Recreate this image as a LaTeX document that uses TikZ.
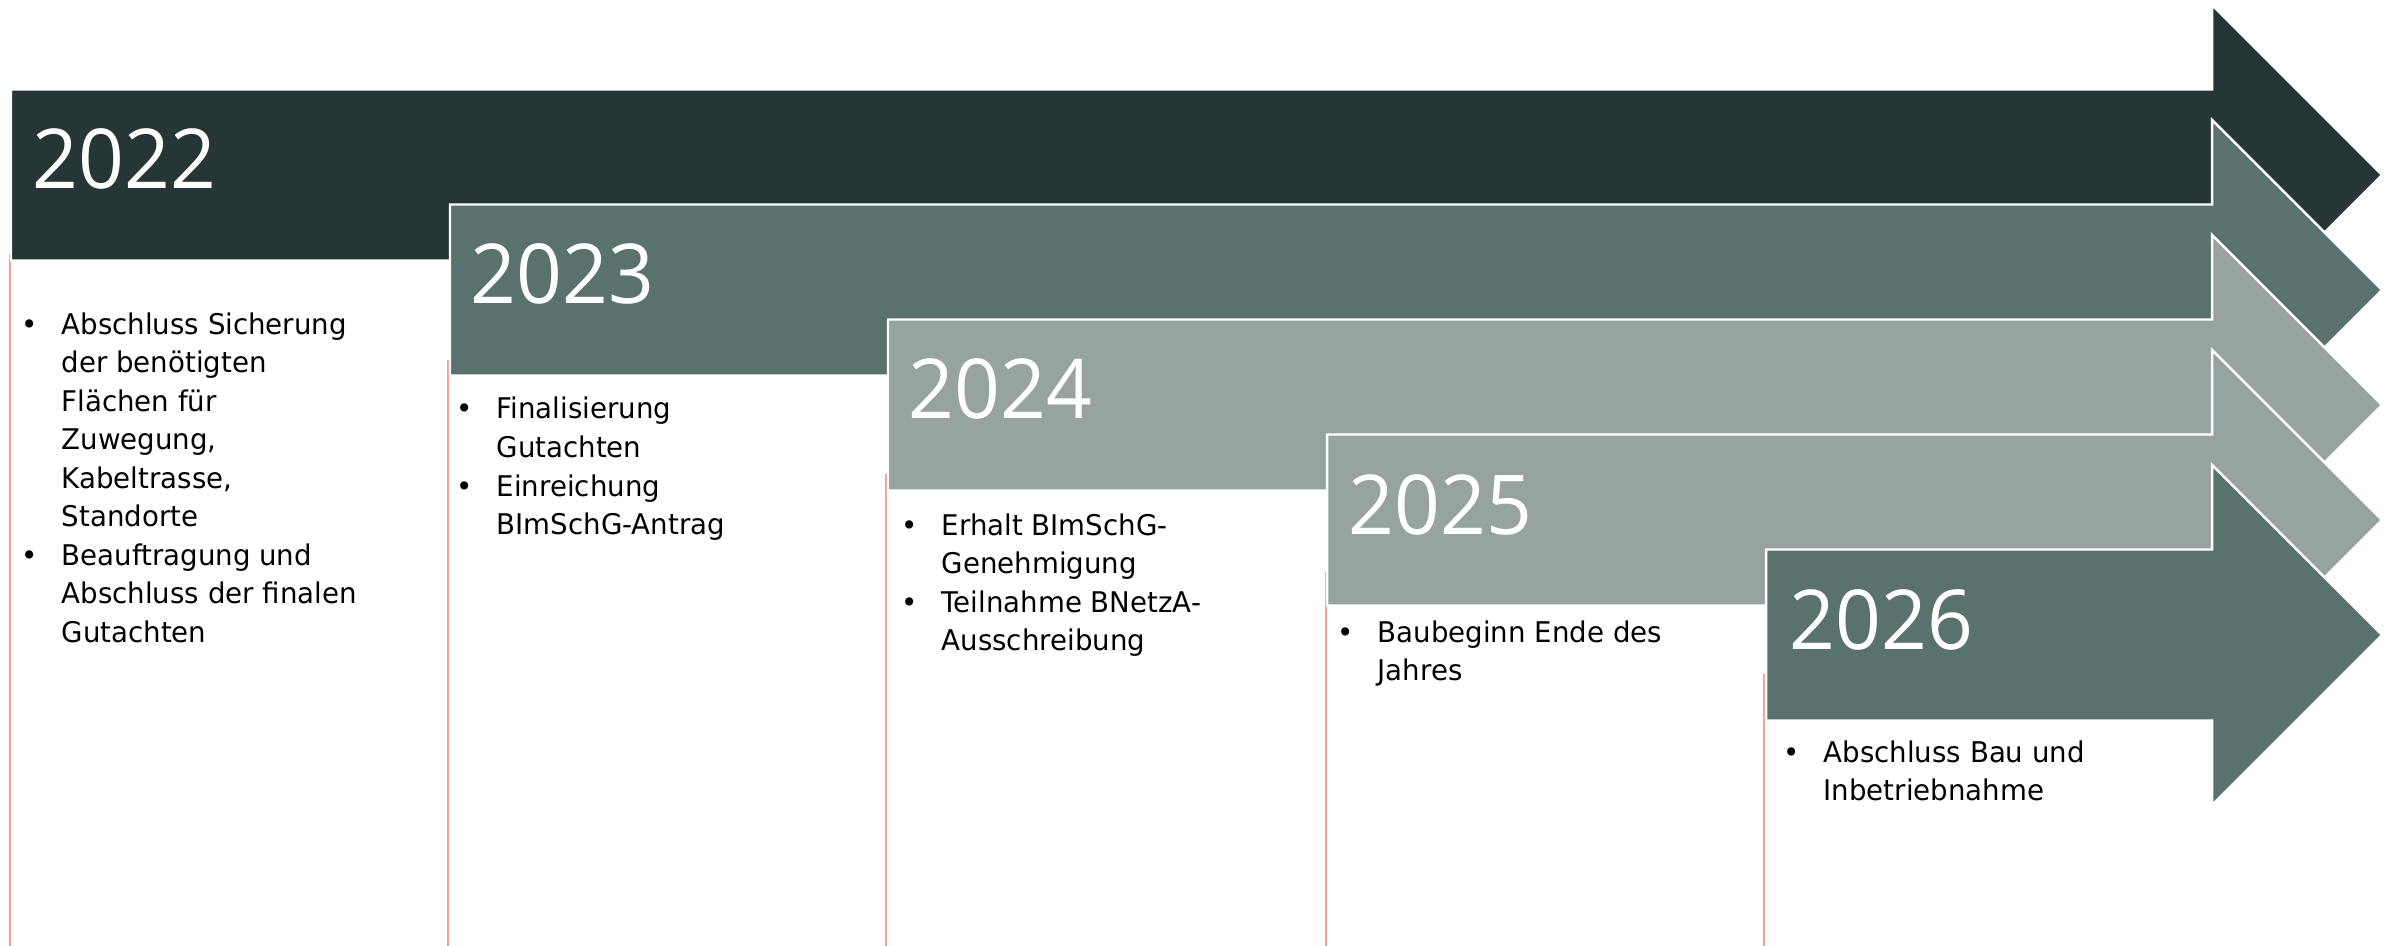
\documentclass[tikz,border=0pt]{standalone}
\usepackage{fontspec}
\setmainfont[FakeStretch=0.97]{DejaVu Sans}
\newfontfamily\yearfont[FakeStretch=0.97]{Open Sans}
\definecolor{darkslate}{RGB}{38,53,53}
\definecolor{midslate}{RGB}{89,114,110}
\definecolor{lightslate}{RGB}{150,163,161}
\definecolor{salmonline}{RGB}{241,163,150}
\newcommand{\mbullet}{\makebox[0.4cm][l]{•}}

\begin{document}
\begin{tikzpicture}[x=0.01cm, y=-0.01cm,
    yeararrow/.style={draw=white, line width=0.7pt, line join=miter},
    yearlabel/.style={anchor=base west, inner sep=0pt, text=white,
      font=\yearfont\fontsize{23.5}{28}\selectfont},
    milestone/.style={anchor=base west, inner sep=0pt,
      font=\fontsize{8.1}{10.95}\selectfont},
    timeline/.style={draw=salmonline, line width=0.55pt}]
  \useasboundingbox (0,0) rectangle (2392,946);
  \coordinate (bottom) at (0,946);
  % thin marks below each year
  \coordinate (t22) at (10,254);
  \coordinate (t23) at (448,360);
  \coordinate (t24) at (886,474);
  \coordinate (t25) at (1326,572);
  \coordinate (t26) at (1764,674);
  \draw[timeline] (t22) -- (t22 |- bottom);
  \draw[timeline] (t23) -- (t23 |- bottom);
  \draw[timeline] (t24) -- (t24 |- bottom);
  \draw[timeline] (t25) -- (t25 |- bottom);
  \draw[timeline] (t26) -- (t26 |- bottom);
  % arrows
  \filldraw[yeararrow, fill=darkslate] (11,89.5) -- (2212,89.5) -- (2212,5) -- (2382,175)
    -- (2212,345) -- (2212,260.5) -- (11,260.5) -- cycle;
  \filldraw[yeararrow, fill=midslate] (450,204.5) -- (2212,204.5) -- (2212,120) -- (2382,290)
    -- (2212,460) -- (2212,375.5) -- (450,375.5) -- cycle;
  \filldraw[yeararrow, fill=lightslate] (888,319.5) -- (2212,319.5) -- (2212,235) -- (2382,405)
    -- (2212,575) -- (2212,490.5) -- (888,490.5) -- cycle;
  \filldraw[yeararrow, fill=lightslate] (1327,434.5) -- (2212,434.5) -- (2212,350) -- (2382,520)
    -- (2212,690) -- (2212,605.5) -- (1327,605.5) -- cycle;
  \filldraw[yeararrow, fill=midslate] (1766,549.5) -- (2212,549.5) -- (2212,465) -- (2382,635)
    -- (2212,805) -- (2212,720.5) -- (1766,720.5) -- cycle;
  % years
  \node[yearlabel] (y22) at (32,189) {2022};
  \node[yearlabel] (y23) at (470,304) {2023};
  \node[yearlabel] (y24) at (908,419) {2024};
  \node[yearlabel] (y25) at (1348,534) {2025};
  \node[yearlabel] (y26) at (1789,649) {2026};
  % milestones
  \node[milestone] (m22) at (21,334) {\begin{tabular}[t]{@{}l@{}l@{}}
    \mbullet & Abschluss Sicherung\\ & der benötigten\\ & Flächen für\\ & Zuwegung,\\
    & Kabeltrasse,\\ & Standorte\\ \mbullet & Beauftragung und\\
    & Abschluss der finalen\\ & Gutachten\end{tabular}};
  \node[milestone] (m23) at (456,419) {\begin{tabular}[t]{@{}l@{}l@{}}
    \mbullet & Finalisierung\\ & Gutachten\\ \mbullet & Einreichung\\
    & BImSchG-Antrag\end{tabular}};
  \node[milestone] (m24) at (901,535) {\begin{tabular}[t]{@{}l@{}l@{}}
    \mbullet & Erhalt BImSchG-\\ & Genehmigung\\ \mbullet & Teilnahme BNetzA-\\
    & Ausschreibung\end{tabular}};
  \node[milestone] (m25) at (1337,642) {\begin{tabular}[t]{@{}l@{}l@{}}
    \mbullet & Baubeginn Ende des\\ & Jahres\end{tabular}};
  \node[milestone] (m26) at (1783,762) {\begin{tabular}[t]{@{}l@{}l@{}}
    \mbullet & Abschluss Bau und\\ & Inbetriebnahme\end{tabular}};
\end{tikzpicture}
\end{document}
